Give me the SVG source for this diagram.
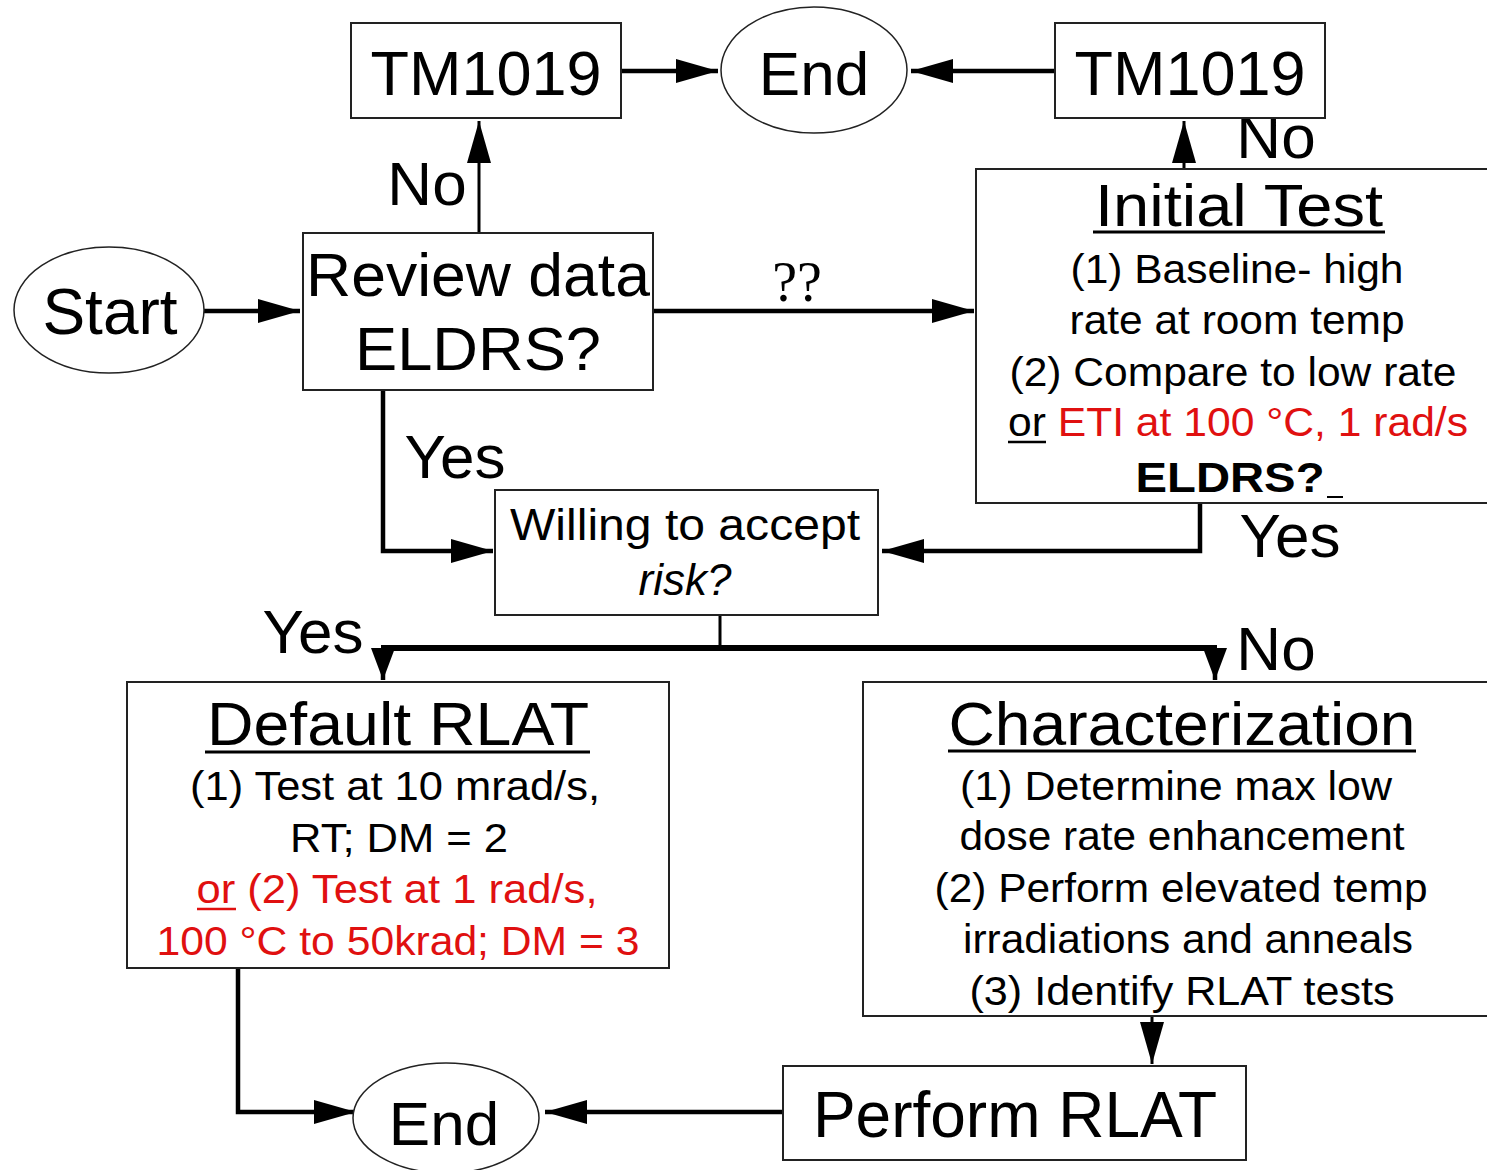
<svg xmlns="http://www.w3.org/2000/svg" width="1487" height="1170" viewBox="0 0 1487 1170">
<style>
.box{fill:#fff;stroke:#222;stroke-width:2}
.ell{fill:#fff;stroke:#222;stroke-width:1.5}
.t{font-family:"Liberation Sans",Arial,sans-serif;fill:#000;text-anchor:middle}
.big{font-size:62px}
.mid{font-size:40px}
.red{fill:#e01010}
.c{fill:none;stroke:#000;stroke-width:4.5}
.cthin{fill:none;stroke:#000;stroke-width:3}
.ul{stroke:#000;stroke-width:3}
</style>
<defs>
<marker id="ah" markerUnits="userSpaceOnUse" markerWidth="44" markerHeight="24" refX="42" refY="12" orient="auto" viewBox="0 0 44 24">
<path d="M0,0 L42,12 L0,24 Z" fill="#000"/>
</marker>
<marker id="ahs" markerUnits="userSpaceOnUse" markerWidth="34" markerHeight="24" refX="32" refY="12" orient="auto" viewBox="0 0 34 24">
<path d="M0,0 L32,12 L0,24 Z" fill="#000"/>
</marker>
</defs>
<rect width="1487" height="1170" fill="#fff"/>

<g id="connectors">
<line class="c" x1="621" y1="71" x2="718" y2="71" marker-end="url(#ah)"/>
<line class="c" x1="1055" y1="71" x2="911" y2="71" marker-end="url(#ah)"/>
<line class="cthin" x1="479" y1="233" x2="479" y2="121" marker-end="url(#ah)"/>
<line class="cthin" x1="1184" y1="169" x2="1184" y2="121" marker-end="url(#ah)"/>
<line class="c" x1="204" y1="311" x2="300" y2="311" marker-end="url(#ah)"/>
<line class="c" x1="653" y1="311" x2="974" y2="311" marker-end="url(#ah)"/>
<polyline class="c" points="383,390 383,551 493,551" marker-end="url(#ah)"/>
<polyline class="c" points="1200,503 1200,551 882,551" marker-end="url(#ah)"/>
<line class="cthin" x1="720" y1="615" x2="720" y2="648"/>
<line class="c" x1="381" y1="648" x2="1217" y2="648" style="stroke-width:6"/>
<line class="c" x1="383" y1="648" x2="383" y2="680" marker-end="url(#ahs)"/>
<line class="c" x1="1215" y1="648" x2="1215" y2="680" marker-end="url(#ahs)"/>
<line class="cthin" x1="1152" y1="1016" x2="1152" y2="1064" marker-end="url(#ah)"/>
<line class="c" x1="783" y1="1112" x2="545" y2="1112" marker-end="url(#ah)"/>
<polyline class="c" points="238,968 238,1112 356,1112" marker-end="url(#ah)"/>
</g>

<g id="labels" class="t">
<text class="t big" x="427" y="205">No</text>
<text class="t big" x="1276" y="158">No</text>
<text x="797" y="301" font-family="Liberation Serif,serif" font-size="56" text-anchor="middle">??</text>
<text class="t big" x="455" y="478">Yes</text>
<text class="t big" x="1290" y="557">Yes</text>
<text class="t big" x="313" y="653">Yes</text>
<text class="t big" x="1276" y="670">No</text>
</g>

<g id="tm1019-left">
<rect class="box" x="351" y="23" width="270" height="95"/>
<text class="t" x="486" y="95" font-size="63">TM1019</text>
</g>
<g id="end-top">
<ellipse class="ell" cx="814" cy="70" rx="93" ry="63"/>
<text class="t big" x="814" y="95">End</text>
</g>
<g id="tm1019-right">
<rect class="box" x="1055" y="23" width="270" height="95"/>
<text class="t" x="1190" y="95" font-size="63">TM1019</text>
</g>
<g id="start">
<ellipse class="ell" cx="109" cy="310" rx="95" ry="63"/>
<text class="t" x="110" y="334" font-size="64">Start</text>
</g>
<g id="review">
<rect class="box" x="303" y="233" width="350" height="157"/>
<text class="t big" x="478" y="296" textLength="344" lengthAdjust="spacingAndGlyphs">Review data</text>
<text class="t big" x="478" y="370" textLength="246" lengthAdjust="spacingAndGlyphs">ELDRS?</text>
</g>
<g id="initial-test">
<rect class="box" x="976" y="169" width="520" height="334"/>
<text class="t" x="1239" y="226" font-size="60" textLength="288" lengthAdjust="spacingAndGlyphs">Initial Test</text>
<line class="ul" x1="1093" y1="232" x2="1385" y2="232"/>
<text class="t mid" x="1237" y="283" textLength="333" lengthAdjust="spacingAndGlyphs">(1) Baseline- high</text>
<text class="t mid" x="1237" y="334" textLength="335" lengthAdjust="spacingAndGlyphs">rate at room temp</text>
<text class="t mid" x="1233" y="386" textLength="447" lengthAdjust="spacingAndGlyphs">(2) Compare to low rate</text>
<text class="t mid" x="1238" y="436" textLength="460" lengthAdjust="spacingAndGlyphs">or <tspan class="red">ETI at 100 °C, 1 rad/s</tspan></text>
<line class="ul" x1="1008" y1="442" x2="1046" y2="442" style="stroke-width:2.5"/>
<text class="t" x="1230" y="492" font-size="42" font-weight="bold" textLength="189" lengthAdjust="spacingAndGlyphs">ELDRS?</text>
<line class="ul" x1="1327" y1="497" x2="1343" y2="497" style="stroke-width:2"/>
</g>
<g id="willing">
<rect class="box" x="495" y="490" width="383" height="125"/>
<text class="t" x="685" y="540" font-size="44" textLength="350" lengthAdjust="spacingAndGlyphs">Willing to accept</text>
<text class="t" x="685" y="595" font-size="44" font-style="italic">risk?</text>
</g>
<g id="default-rlat">
<rect class="box" x="127" y="682" width="542" height="286"/>
<text class="t big" x="398" y="745" textLength="382" lengthAdjust="spacingAndGlyphs">Default RLAT</text>
<line class="ul" x1="205" y1="752" x2="590" y2="752"/>
<text class="t mid" x="395" y="800" textLength="410" lengthAdjust="spacingAndGlyphs">(1) Test at 10 mrad/s,</text>
<text class="t mid" x="399" y="852" textLength="218" lengthAdjust="spacingAndGlyphs">RT; DM = 2</text>
<text class="t mid red" x="397" y="903" textLength="401" lengthAdjust="spacingAndGlyphs">or (2) Test at 1 rad/s,</text>
<line x1="197" y1="909" x2="236" y2="909" stroke="#e01010" stroke-width="2.5"/>
<text class="t mid red" x="398" y="955" textLength="483" lengthAdjust="spacingAndGlyphs">100 °C to 50krad; DM = 3</text>
</g>
<g id="characterization">
<rect class="box" x="863" y="682" width="634" height="334"/>
<text class="t big" x="1182" y="745" textLength="467" lengthAdjust="spacingAndGlyphs">Characterization</text>
<line class="ul" x1="948" y1="751" x2="1416" y2="751"/>
<text class="t mid" x="1176" y="800" textLength="432" lengthAdjust="spacingAndGlyphs">(1) Determine max low</text>
<text class="t mid" x="1182" y="850" textLength="445" lengthAdjust="spacingAndGlyphs">dose rate enhancement</text>
<text class="t mid" x="1181" y="902" textLength="493" lengthAdjust="spacingAndGlyphs">(2) Perform elevated temp</text>
<text class="t mid" x="1188" y="953" textLength="450" lengthAdjust="spacingAndGlyphs">irradiations and anneals</text>
<text class="t mid" x="1182" y="1005" textLength="425" lengthAdjust="spacingAndGlyphs">(3) Identify RLAT tests</text>
</g>
<g id="perform-rlat">
<rect class="box" x="783" y="1066" width="463" height="94"/>
<text class="t" x="1015" y="1137" font-size="64">Perform RLAT</text>
</g>
<g id="end-bottom">
<ellipse class="ell" cx="446" cy="1118" rx="93" ry="55"/>
<text class="t big" x="444" y="1145">End</text>
</g>
</svg>
